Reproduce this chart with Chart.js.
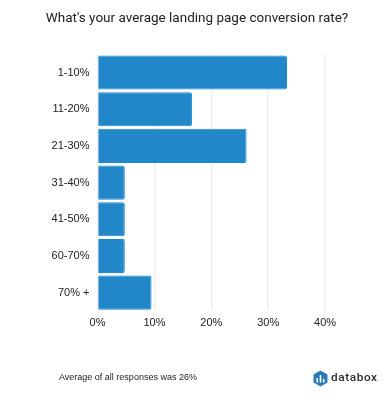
<!DOCTYPE html>
<html><head><meta charset="utf-8">
<script src="https://cdn.jsdelivr.net/npm/chart.js@4"></script>
<style>
html,body{margin:0;padding:0;background:#fff;width:390px;height:400px;overflow:hidden}
#wrap{position:absolute;left:0;top:0;width:390px;height:400px}
#note{position:absolute;left:59px;top:372px;font:9px "Liberation Sans",sans-serif;color:#222;white-space:nowrap}
#brand{position:absolute;left:331px;top:370px;font:500 11.8px "Roboto",sans-serif;letter-spacing:.6px;color:#2b2f33}
#logo{position:absolute;left:313px;top:370px}
</style></head><body>
<div id="wrap"><canvas id="c" width="390" height="400"></canvas></div>
<div id="note">Average of all responses was 26%</div>
<svg id="logo" width="15" height="17" viewBox="0 0 15 17"><path d="M7.5 0.5 14.5 4.5V12.5L7.5 16.5 0.5 12.5V4.5Z" fill="#2a7ab8"/><rect x="3.5" y="8" width="1.6" height="4.5" fill="#fff"/><rect x="6.7" y="5" width="1.6" height="7.5" fill="#fff"/><rect x="9.9" y="9" width="1.6" height="3.5" fill="#fff"/></svg>
<div id="brand">databox</div>
<script>
const categories = ['1-10%','11-20%','21-30%','31-40%','41-50%','60-70%','70% +'];
const values = [33.3,16.6,26.2,4.8,4.8,4.8,9.5];
const xTicks = [0,10,20,30,40];
const xMax = 51.4;
const tickFont = {family:'"Liberation Sans",sans-serif',size:11};
new Chart(document.getElementById('c'),{
  type:'bar',
  data:{labels:categories,datasets:[{data:values,backgroundColor:'#2287c9',borderColor:'#1f8ad0',borderWidth:1,borderRadius:2,borderSkipped:'left',categoryPercentage:1,barPercentage:0.93}]},
  options:{
    indexAxis:'y',responsive:false,animation:false,
    layout:{padding:{left:4,right:0,top:0,bottom:0}},
    plugins:{legend:{display:false},tooltip:{enabled:false},
      title:{display:true,text:"What's your average landing page conversion rate?",color:'#222',font:{family:'Roboto,sans-serif',size:13.5,weight:'400'},padding:{top:11,bottom:27}}},
    scales:{
      x:{min:0,max:xMax,afterBuildTicks:s=>{s.ticks=xTicks.map(v=>({value:v}));},
         afterFit:s=>{s.height=89;},
         grid:{color:'#f0f0f0',lineWidth:1.5,drawTicks:false},border:{display:false},
         ticks:{color:'#222',font:tickFont,padding:5,maxRotation:0,callback:v=>v+'%'}},
      y:{afterFit:s=>{s.width=93.5;},grid:{display:false,drawTicks:false},border:{display:false},
         ticks:{color:'#222',font:tickFont,padding:8}}
    }
  }
});
</script>
</body></html>
